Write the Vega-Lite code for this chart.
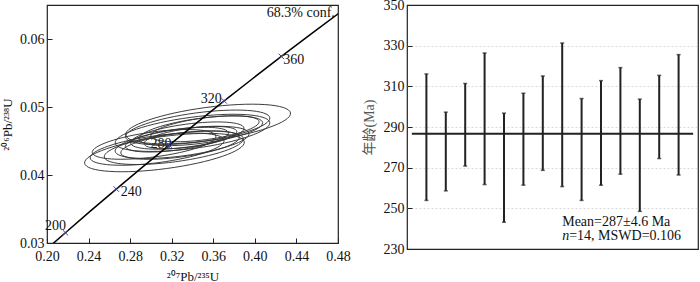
{
  "$schema": "https://vega.github.io/schema/vega-lite/v6.json",
  "padding": {"left": 0, "top": -3, "right": 0, "bottom": 0},
  "spacing": 10,
  "config": {
    "view": {"stroke": "#222", "strokeWidth": 1.2},
    "font": "Liberation Serif",
    "axis": {
      "labelFont": "Liberation Serif",
      "titleFont": "Liberation Serif, Noto Sans CJK SC",
      "labelFontSize": 14,
      "titleFontSize": 13,
      "titleFontWeight": "normal",
      "labelColor": "#111",
      "titleColor": "#111",
      "domain": false,
      "tickSize": -5,
      "tickColor": "#222",
      "tickWidth": 1,
      "grid": false,
      "labelPadding": 8
    }
  },
  "datasets": {
    "ellipses": [
      {"cx": 0.313, "cy": 0.0433, "w": 0.155},
      {"cx": 0.322, "cy": 0.0440, "w": 0.135},
      {"cx": 0.330, "cy": 0.0448, "w": 0.130},
      {"cx": 0.303, "cy": 0.0445, "w": 0.120},
      {"cx": 0.340, "cy": 0.0462, "w": 0.150},
      {"cx": 0.355, "cy": 0.0475, "w": 0.160},
      {"cx": 0.345, "cy": 0.0470, "w": 0.140},
      {"cx": 0.335, "cy": 0.0458, "w": 0.110},
      {"cx": 0.325, "cy": 0.0452, "w": 0.100},
      {"cx": 0.348, "cy": 0.0465, "w": 0.120},
      {"cx": 0.306, "cy": 0.0438, "w": 0.130},
      {"cx": 0.338, "cy": 0.0455, "w": 0.090},
      {"cx": 0.352, "cy": 0.0468, "w": 0.105},
      {"cx": 0.328, "cy": 0.0444, "w": 0.115}
    ],
    "concordia": [
      {"t": 190, "x": 0.205773, "y": 0.029912},
      {"t": 200, "x": 0.217708, "y": 0.031511},
      {"t": 220, "x": 0.241931, "y": 0.034717},
      {"t": 240, "x": 0.266635, "y": 0.037932},
      {"t": 260, "x": 0.291831, "y": 0.041157},
      {"t": 280, "x": 0.317529, "y": 0.044392},
      {"t": 300, "x": 0.343738, "y": 0.047637},
      {"t": 320, "x": 0.370467, "y": 0.050892},
      {"t": 340, "x": 0.397729, "y": 0.054158},
      {"t": 360, "x": 0.425534, "y": 0.057434},
      {"t": 380, "x": 0.453890, "y": 0.060719},
      {"t": 400, "x": 0.482813, "y": 0.064015}
    ],
    "ageTicks": [
      {"label": "200", "x": 0.217708, "y": 0.031511, "lx": 0.2183, "ly": 0.03198, "side": "r"},
      {"label": "240", "x": 0.266635, "y": 0.037932, "lx": 0.2709, "ly": 0.03691, "side": "l"},
      {"label": "280", "x": 0.317529, "y": 0.044392, "lx": 0.3198, "ly": 0.04397, "side": "r"},
      {"label": "320", "x": 0.370467, "y": 0.050892, "lx": 0.3681, "ly": 0.05063, "side": "r"},
      {"label": "360", "x": 0.425534, "y": 0.057434, "lx": 0.4273, "ly": 0.0563, "side": "l"}
    ],
    "ages": [
      {"i": 1, "lo": 253.9, "hi": 316.1},
      {"i": 2, "lo": 258.6, "hi": 297.3},
      {"i": 3, "lo": 270.8, "hi": 311.4},
      {"i": 4, "lo": 261.7, "hi": 326.4},
      {"i": 5, "lo": 243.2, "hi": 296.8},
      {"i": 6, "lo": 261.4, "hi": 306.6},
      {"i": 7, "lo": 268.7, "hi": 315.1},
      {"i": 8, "lo": 260.7, "hi": 331.3},
      {"i": 9, "lo": 253.9, "hi": 304.0},
      {"i": 10, "lo": 261.4, "hi": 312.8},
      {"i": 11, "lo": 266.8, "hi": 319.2},
      {"i": 12, "lo": 248.5, "hi": 303.7},
      {"i": 13, "lo": 274.5, "hi": 315.4},
      {"i": 14, "lo": 266.4, "hi": 325.6}
    ]
  },
  "hconcat": [
    {
      "width": 291,
      "height": 238,
      "layer": [
        {
          "data": {"name": "ageTicks"},
          "transform": [{"filter": "datum.side == 'r'"}],
          "mark": {"type": "text", "align": "right", "baseline": "alphabetic", "fontSize": 14, "font": "Liberation Serif", "color": "#111"},
          "encoding": {
            "x": {"field": "lx", "type": "quantitative", "scale": {"domain": [0.2, 0.48], "nice": false, "zero": false},
              "axis": {"title": "²⁰⁷Pb/²³⁵U", "values": [0.2, 0.24, 0.28, 0.32, 0.36, 0.4, 0.44, 0.48], "format": ".2f", "labelFlush": false, "labelPadding": 11, "titlePadding": 7}},
            "y": {"field": "ly", "type": "quantitative", "scale": {"domain": [0.03, 0.065], "nice": false, "zero": false},
              "axis": {"title": "²⁰⁶Pb/²³⁸U", "values": [0.03, 0.04, 0.05, 0.06], "format": ".2f", "labelPadding": 8, "titlePadding": 5}},
            "text": {"field": "label"}
          }
        },
        {
          "data": {"name": "ageTicks"},
          "transform": [{"filter": "datum.side == 'l'"}],
          "mark": {"type": "text", "align": "left", "baseline": "alphabetic", "fontSize": 14, "font": "Liberation Serif", "color": "#111"},
          "encoding": {
            "x": {"field": "lx", "type": "quantitative"},
            "y": {"field": "ly", "type": "quantitative"},
            "text": {"field": "label"}
          }
        },
        {
          "data": {"name": "ellipses"},
          "mark": {"type": "point", "shape": "M-1,0A1,0.2,0,1,0,1,0A1,0.2,0,1,0,-1,0Z", "filled": false, "angle": 352.4, "stroke": "#333", "strokeWidth": 0.9, "opacity": 1},
          "encoding": {
            "x": {"field": "cx", "type": "quantitative"},
            "y": {"field": "cy", "type": "quantitative"},
            "size": {"field": "w", "type": "quantitative", "scale": {"type": "pow", "exponent": 2, "domain": [0, 0.2], "range": [0, 43206]}, "legend": null}
          }
        },
        {
          "data": {"name": "concordia"},
          "mark": {"type": "line", "color": "#000", "strokeWidth": 1.5, "clip": true},
          "encoding": {
            "x": {"field": "x", "type": "quantitative"},
            "y": {"field": "y", "type": "quantitative"},
            "order": {"field": "t", "type": "quantitative"}
          }
        },
        {
          "data": {"name": "ageTicks"},
          "mark": {"type": "point", "shape": "M-1,-1L1,1M-1,1L1,-1", "filled": false, "stroke": "#4a3f9c", "strokeWidth": 1, "size": 30, "opacity": 1},
          "encoding": {
            "x": {"field": "x", "type": "quantitative"},
            "y": {"field": "y", "type": "quantitative"}
          }
        },
        {
          "data": {"values": [{"x": 0.477, "y": 0.0632, "label": "68.3% conf."}]},
          "mark": {"type": "text", "align": "right", "baseline": "alphabetic", "fontSize": 14, "font": "Liberation Serif", "color": "#111"},
          "encoding": {
            "x": {"field": "x", "type": "quantitative"},
            "y": {"field": "y", "type": "quantitative"},
            "text": {"field": "label"}
          }
        }
      ]
    },
    {
      "width": 291,
      "height": 244,
      "layer": [
        {
          "data": {"name": "ages"},
          "mark": {"type": "rule", "color": "#222", "strokeWidth": 2},
          "encoding": {
            "x": {"field": "i", "type": "quantitative", "scale": {"domain": [0, 15], "nice": false, "zero": false}, "axis": null},
            "y": {"field": "lo", "type": "quantitative", "scale": {"domain": [230, 350], "nice": false, "zero": false},
              "axis": {"title": "年龄(Ma)", "titleColor": "#555", "titleFontSize": 14, "values": [230, 250, 270, 290, 310, 330, 350], "grid": true, "gridColor": "#cfcfcf", "gridDash": [2, 2], "gridWidth": 0.8,
                "gridOpacity": {"condition": {"test": "datum.value == 230 || datum.value == 350", "value": 0}, "value": 1},
                "labelPadding": 8, "titlePadding": 7}},
            "y2": {"field": "hi"}
          }
        },
        {
          "data": {"name": "ages"},
          "mark": {"type": "tick", "orient": "horizontal", "size": 4, "thickness": 1.5, "color": "#222"},
          "encoding": {
            "x": {"field": "i", "type": "quantitative"},
            "y": {"field": "lo", "type": "quantitative"}
          }
        },
        {
          "data": {"name": "ages"},
          "mark": {"type": "tick", "orient": "horizontal", "size": 4, "thickness": 1.5, "color": "#222"},
          "encoding": {
            "x": {"field": "i", "type": "quantitative"},
            "y": {"field": "hi", "type": "quantitative"}
          }
        },
        {
          "data": {"values": [{"x1": 0.25, "x2": 14.75, "m": 286.7}]},
          "mark": {"type": "rule", "color": "#222", "strokeWidth": 2},
          "encoding": {
            "x": {"field": "x1", "type": "quantitative"},
            "x2": {"field": "x2"},
            "y": {"field": "m", "type": "quantitative"}
          }
        },
        {
          "data": {"values": [{"x": 8, "y": 241.3, "label": "Mean=287±4.6 Ma"}]},
          "mark": {"type": "text", "align": "left", "baseline": "alphabetic", "fontSize": 14, "font": "Liberation Serif", "color": "#111"},
          "encoding": {
            "x": {"field": "x", "type": "quantitative"},
            "y": {"field": "y", "type": "quantitative"},
            "text": {"field": "label"}
          }
        },
        {
          "data": {"values": [{"x": 8, "y": 234.4, "label": "n"}]},
          "mark": {"type": "text", "align": "left", "baseline": "alphabetic", "fontSize": 14, "font": "Liberation Serif", "fontStyle": "italic", "color": "#111"},
          "encoding": {
            "x": {"field": "x", "type": "quantitative"},
            "y": {"field": "y", "type": "quantitative"},
            "text": {"field": "label"}
          }
        },
        {
          "data": {"values": [{"x": 8, "y": 234.4, "label": "=14, MSWD=0.106"}]},
          "mark": {"type": "text", "align": "left", "baseline": "alphabetic", "fontSize": 14, "font": "Liberation Serif", "color": "#111", "dx": 7},
          "encoding": {
            "x": {"field": "x", "type": "quantitative"},
            "y": {"field": "y", "type": "quantitative"},
            "text": {"field": "label"}
          }
        }
      ]
    }
  ]
}
